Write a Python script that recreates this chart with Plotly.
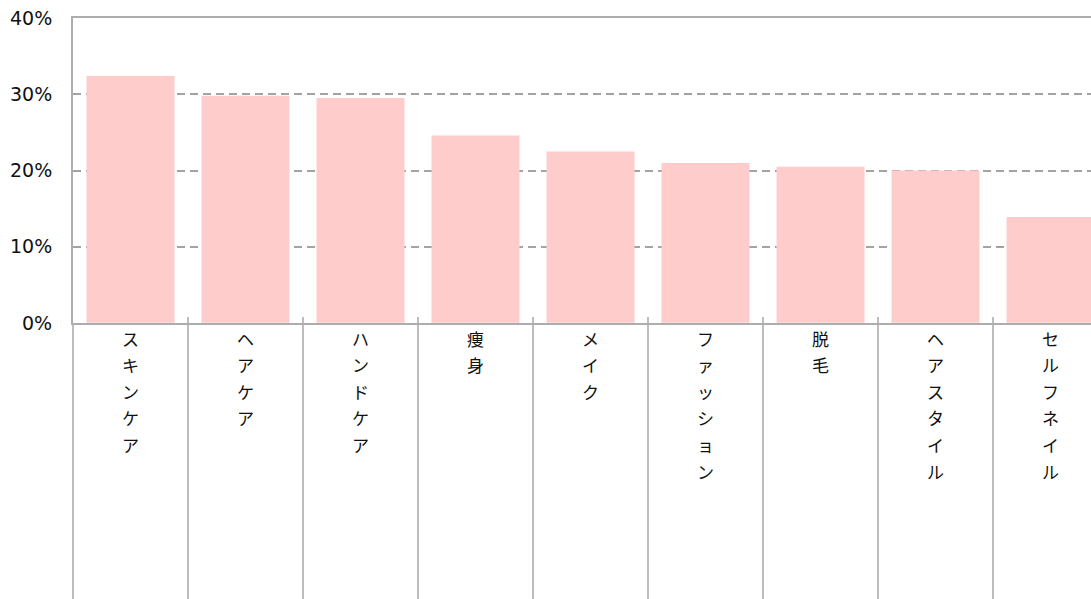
import plotly.graph_objects as go

categories = ["スキンケア", "ヘアケア", "ハンドケア", "痩身", "メイク",
              "ファッション", "脱毛", "ヘアスタイル", "セルフネイル"]
values = [32.4, 29.8, 29.5, 24.6, 22.5, 21.0, 20.5, 20.0, 13.9]
y_ticks = [0, 10, 20, 30, 40]
y_tick_labels = ["0%", "10%", "20%", "30%", "40%"]

fig = go.Figure()
fig.add_trace(go.Bar(x=categories, y=values, marker=dict(color="#FFCCCC", line=dict(width=0)),
                     hoverinfo="skip"))
# overlay trace to drive the inside-tick axis
fig.add_trace(go.Bar(x=categories, y=[0]*len(categories), xaxis="x2", showlegend=False,
                     hoverinfo="skip", marker=dict(color="rgba(0,0,0,0)")))

annotations = []
for cat in categories:
    for i, ch in enumerate(cat):
        annotations.append(dict(x=cat, xref="x", y=0, yref="paper", text=ch, showarrow=False,
                                yanchor="middle", xanchor="center", yshift=-(15 + 26.6 * i),
                                font=dict(family="Noto Sans CJK JP", size=17, color="#111")))

fig.update_layout(
    width=1091, height=599,
    margin=dict(l=73, r=0, t=18, b=276, autoexpand=False),
    plot_bgcolor="white", paper_bgcolor="white",
    bargap=0.235,
    showlegend=False,
    annotations=annotations,
    xaxis=dict(range=[-0.5, 8.352], showline=True, mirror=True, linecolor="#adadad", linewidth=2,
               ticks="outside", tickson="boundaries", ticklen=280, tickwidth=2, tickcolor="#bdbdbd",
               showticklabels=False, showgrid=False, zeroline=False, fixedrange=True,
               automargin=False),
    xaxis2=dict(overlaying="x", side="bottom", range=[-0.5, 8.352], matches="x",
                ticks="inside", tickson="boundaries", ticklen=6, tickwidth=2, tickcolor="#bdbdbd",
                showticklabels=False, showgrid=False, zeroline=False, showline=False,
                automargin=False),
    yaxis=dict(range=[0, 40], tickvals=y_ticks, ticktext=y_tick_labels,
               showline=True, linecolor="#adadad", linewidth=2,
               showgrid=True, gridcolor="#a3a3a3", gridwidth=2, griddash="8px,5px",
               zeroline=False, ticks="", ticklabelstandoff=15, automargin=False,
               ticklabeloverflow="allow", fixedrange=True,
               tickfont=dict(family="DejaVu Sans", size=19, color="#111")),
)

fig.write_html("out.html", config={"displayModeBar": False, "staticPlot": True},
               post_script="document.body.style.margin='0';document.body.style.overflow='hidden';")
